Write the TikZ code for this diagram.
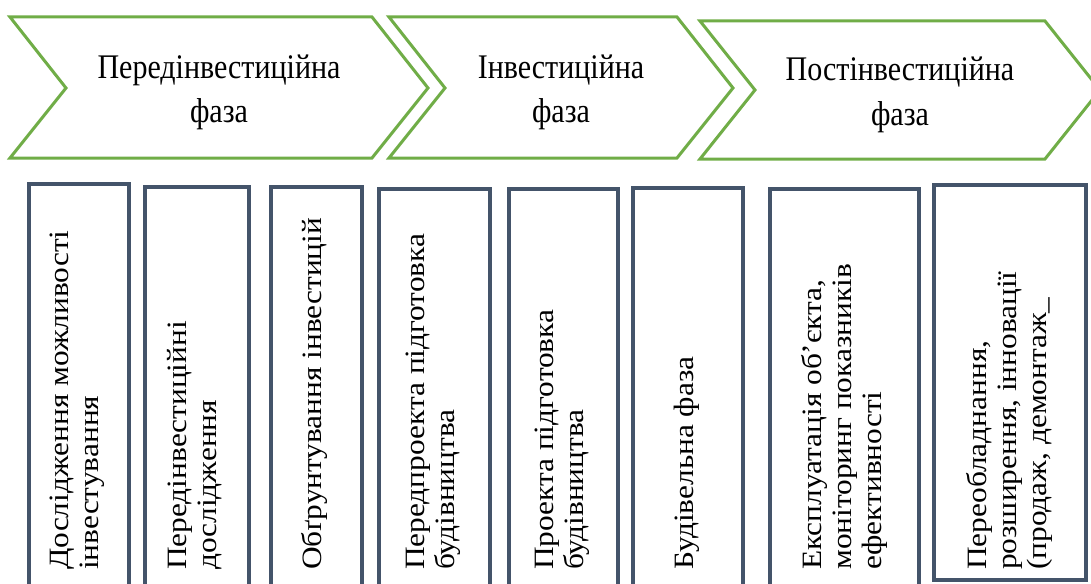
\documentclass[tikz,border=0pt]{standalone}
\usepackage{fontspec}
\setmainfont{Liberation Serif}
\definecolor{phasegreen}{HTML}{70AD47}
\definecolor{boxslate}{HTML}{44546A}
\begin{document}
\begin{tikzpicture}[x=1pt,y=-1pt,
  phase/.style={draw=phasegreen, line width=3pt, line join=miter, fill=white},
  phasetext/.style={font=\fontsize{30}{39}\selectfont, align=center, inner sep=0pt, yscale=1.15, anchor=base},
  stagebox/.style={draw=boxslate, line width=3.5pt, anchor=north west, inner sep=0pt, fill=white},
  stagetext/.style={font=\fontsize{28}{30}\selectfont, align=left, inner sep=0pt, rotate=90, xscale=1.12, anchor=west},
]
\useasboundingbox (0,0) rectangle (1091,583);
\begin{scope}
\clip (0,0) rectangle (1091,583);

% phase chevrons
\draw[phase] (10,17) -- (372,17) -- (428,88) -- (372,158) -- (10,158) -- (66,88) -- cycle;
\draw[phase] (389,17) -- (677,17) -- (733,88) -- (677,158) -- (389,158) -- (445,88) -- cycle;
\draw[phase] (700,21) -- (1045,21) -- (1100,90) -- (1045,159) -- (700,159) -- (755,90) -- cycle;

% phase titles (anchored on the baseline of the second line)
\node[phasetext] (pre) at (219,123) {Передінвестиційна\\фаза};
\node[phasetext] (inv) at (561,123) {Інвестиційна\\фаза};
\node[phasetext] (post) at (900,125) {Постінвестиційна\\фаза};

% stage boxes
\node[stagebox, minimum width=100pt, minimum height=430pt] (b1) at (27,182) {};
\node[stagebox, minimum width=104pt, minimum height=430pt] (b2) at (143,185) {};
\node[stagebox, minimum width=91pt,  minimum height=430pt] (b3) at (269,185) {};
\node[stagebox, minimum width=111pt, minimum height=430pt] (b4) at (377,187) {};
\node[stagebox, minimum width=109pt, minimum height=430pt] (b5) at (507,187) {};
\node[stagebox, minimum width=110pt, minimum height=430pt] (b6) at (631,186) {};
\node[stagebox, minimum width=149pt, minimum height=430pt] (b7) at (768,187) {};
\node[stagebox, minimum width=152pt, minimum height=395pt] (b8) at (932,183) {};

% rotated stage labels, read bottom to top
\node[stagetext] (t1) at (77,570)   {Дослідження можливості\\інвестування};
\node[stagetext] (t2) at (195,570)  {Передінвестиційні\\дослідження};
\node[stagetext] (t3) at (314,570)  {Обґрунтування інвестицій};
\node[stagetext] (t4) at (433,570)  {Передпроекта підготовка\\будівництва};
\node[stagetext] (t5) at (562,570)  {Проекта підготовка\\будівництва};
\node[stagetext] (t6) at (687,570)  {Будівельна фаза};
\node[stagetext] (t7) at (844,570)  {Експлуатація об’єкта,\\моніторинг показників\\ефективності};
\node[stagetext] (t8) at (1009,570) {Переобладнання,\\розширення, інновації\\(продаж, демонтаж\_};
\end{scope}
\end{tikzpicture}
\end{document}
